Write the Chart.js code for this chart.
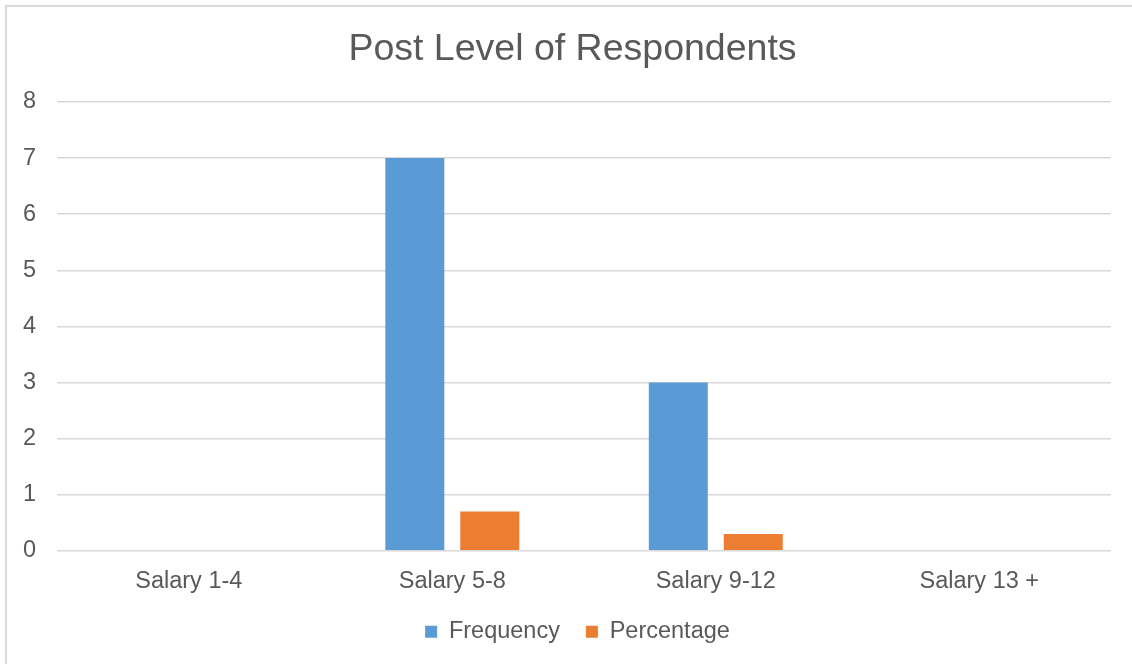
<!DOCTYPE html>
<html>
<head>
<meta charset="utf-8">
<script src="https://cdn.jsdelivr.net/npm/chart.js@4.4.1/dist/chart.umd.min.js"></script>
<style>
  html, body { margin: 0; padding: 0; background: #fff; overflow: hidden; }
  #frame { position: absolute; left: 5px; top: 5px; width: 1140px; height: 680px; border: 2px solid #d9d9d9; box-sizing: border-box; }
  #wrap { position: absolute; left: 0; top: 0; width: 1132px; height: 664px; }
</style>
</head>
<body>
<div id="frame"></div>
<div id="wrap"><canvas id="chart"></canvas></div>
<script>
const categories = ['Salary 1-4', 'Salary 5-8', 'Salary 9-12', 'Salary 13 +'];
const frequency = [0, 7, 3, 0];
const percentage = [0, 0.7, 0.3, 0];
const yTicks = [0, 1, 2, 3, 4, 5, 6, 7, 8];

const textColor = '#595959';
const fontFamily = '"Liberation Sans", Arial, sans-serif';

// Centre the title and legend on the whole frame rather than the padded layout box.
const blockOffsets = {
  id: 'blockOffsets',
  afterLayout(chart) {
    const shift = (box, dx, dy) => {
      if (!box) return;
      box.left += dx; box.right += dx;
      box.top += dy; box.bottom += dy;
    };
    shift(chart.titleBlock, 16, 0);
    const lg = chart.legend;
    if (lg) {
      const pad = lg.options.labels.padding;
      const centreY = lg.top + pad + 12;
      shift(lg, 21, 632 - centreY);
    }
  }
};

new Chart(document.getElementById('chart'), {
  type: 'bar',
  data: {
    labels: categories,
    datasets: [
      { label: 'Frequency', data: frequency, backgroundColor: '#5b9bd5', borderWidth: 0 },
      { label: 'Percentage', data: percentage, backgroundColor: '#ed7d31', borderWidth: 0 }
    ]
  },
  plugins: [blockOffsets],
  options: {
    responsive: true,
    maintainAspectRatio: false,
    animation: false,
    categoryPercentage: 0.569,
    barPercentage: 0.787,
    layout: { padding: { top: 27, left: 2, right: 21, bottom: 9 } },
    plugins: {
      title: {
        display: true,
        text: 'Post Level of Respondents',
        color: textColor,
        font: { family: fontFamily, size: 37.5, weight: 'normal' },
        padding: { top: 0, bottom: 30 }
      },
      legend: {
        position: 'bottom',
        maxHeight: 50,
        labels: {
          color: textColor,
          font: { family: fontFamily, size: 23.5 },
          boxWidth: 12,
          boxHeight: 12,
          padding: 26
        }
      },
      tooltip: { enabled: false }
    },
    scales: {
      x: {
        grid: { display: false },
        border: { display: false },
        ticks: { color: textColor, font: { family: fontFamily, size: 23.5 }, padding: 9 }
      },
      y: {
        min: yTicks[0],
        max: yTicks[yTicks.length - 1],
        afterBuildTicks: (axis) => { axis.ticks = yTicks.map(v => ({ value: v })); },
        grid: { color: '#d9d9d9', lineWidth: 1.5, drawTicks: false },
        border: { display: false },
        ticks: { color: textColor, font: { family: fontFamily, size: 23.5 }, padding: 21 }
      }
    }
  }
});
</script>
</body>
</html>
